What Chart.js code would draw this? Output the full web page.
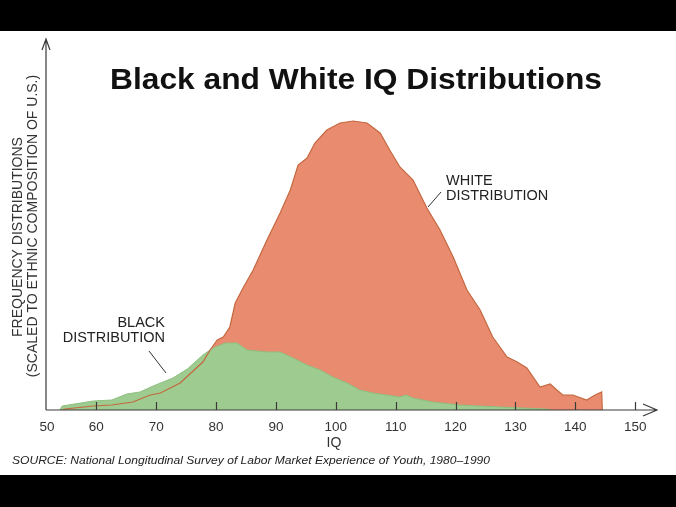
<!DOCTYPE html>
<html>
<head>
<meta charset="utf-8">
<script src="https://cdn.jsdelivr.net/npm/chart.js@4"></script>
<style>
  html, body { margin: 0; padding: 0; background: #fff; }
  canvas { display: block; }
</style>
</head>
<body>
<canvas id="iq-chart" width="676" height="507"></canvas>
<script>
// values (frequency in arbitrary units)
const whiteIQ = [54.3, 54.8, 59.5, 62.6, 66.1, 69.0, 70.7, 74.0, 77.8, 79.0,
                 80.2, 81.2, 82.3, 83.2, 84.5, 86.2, 88.5, 90.7, 92.4, 93.7,
                 95.2, 96.5, 98.5, 100.7, 102.9, 105.2, 107.4, 109.0, 110.7, 112.9,
                 115.2, 117.4, 119.6, 121.9, 124.1, 126.2, 128.6, 130.3, 131.9, 134.1,
                 135.8, 136.9, 137.9, 139.6, 141.9, 143.3, 144.4, 144.5];
const whiteFreq = [0, 0.1, 0.4, 0.5, 0.8, 1.5, 1.7, 2.7, 4.8, 6.0,
                   7.0, 7.3, 8.3, 10.7, 12.2, 14.0, 17.0, 19.7, 22.0, 24.5,
                   25.2, 26.7, 28.0, 28.7, 28.9, 28.7, 27.7, 26.0, 24.3, 23.0,
                   20.2, 18.0, 15.3, 12.0, 10.0, 7.3, 5.3, 4.8, 4.2, 2.3,
                   2.6, 2.0, 1.5, 1.5, 1.0, 1.5, 1.8, 0];
const blackIQ = [53.9, 54.3, 59.5, 62.6, 65.1, 67.3, 69.5, 72.8, 75.2, 77.8,
                 79.0, 79.5, 80.7, 81.5, 83.5, 85.2, 88.5, 90.7, 92.9, 95.2,
                 97.4, 99.5, 101.9, 104.0, 106.2, 108.5, 110.7, 111.7, 112.9, 116.2,
                 120.7, 127.4, 134.9, 136.0];
const blackFreq = [0, 0.4, 0.9, 1.0, 1.6, 1.8, 2.4, 3.2, 4.1, 5.5,
                   6.0, 6.2, 6.5, 6.7, 6.7, 6.0, 5.8, 5.8, 5.2, 4.5,
                   4.0, 3.3, 2.7, 2.0, 1.7, 1.5, 1.3, 1.5, 1.2, 0.8,
                   0.5, 0.3, 0.1, 0];
const xTicks = [60, 70, 80, 90, 100, 110, 120, 130, 140, 150];
const xMinLabel = '50';

const SALMON = '#e98b6f';
const GREEN = '#9ecb90';

function pts(xs, ys) {
  return xs.map((x, i) => ({ x: x, y: ys[i] }));
}

// draw text stretched to a given width
function stretchText(ctx, txt, x, y, width, align) {
  const w = ctx.measureText(txt).width;
  const sx = width ? width / w : 1;
  ctx.save();
  ctx.translate(x, y);
  ctx.scale(sx, 1);
  ctx.textAlign = align || 'left';
  ctx.fillText(txt, 0, 0);
  ctx.restore();
}

const decor = {
  id: 'decor',
  beforeDraw(chart) {
    const c = chart.ctx;
    c.save();
    c.fillStyle = '#fff';
    c.fillRect(0, 0, chart.width, chart.height);
    c.fillStyle = '#000';
    c.fillRect(0, 0, chart.width, 31);
    c.fillRect(0, 475, chart.width, chart.height - 475);
    c.restore();
  },
  afterDraw(chart) {
    const c = chart.ctx;
    const xs = chart.scales.x, ys = chart.scales.y;
    const x0 = xs.left, y0 = ys.bottom;
    c.save();

    // axes with open arrow heads
    c.strokeStyle = '#3a3a3a';
    c.lineWidth = 1.2;
    c.beginPath();
    c.moveTo(x0, y0); c.lineTo(x0, 39);
    c.moveTo(x0 - 4, 50); c.lineTo(x0, 39); c.lineTo(x0 + 4, 50);
    c.moveTo(x0, y0); c.lineTo(657, y0);
    c.moveTo(643, y0 - 6); c.lineTo(657, y0); c.lineTo(643, y0 + 6);
    c.stroke();

    // ticks pointing up into the plot
    c.beginPath();
    xTicks.forEach(v => {
      const px = Math.round(xs.getPixelForValue(v)) + 0.5;
      c.moveTo(px, y0); c.lineTo(px, y0 - 8);
    });
    c.stroke();

    // tick labels
    c.fillStyle = '#333';
    c.font = '13.5px "Liberation Sans", Arial, sans-serif';
    c.textBaseline = 'middle';
    c.textAlign = 'center';
    c.fillText(xMinLabel, 47, 427);
    xTicks.forEach(v => c.fillText(String(v), xs.getPixelForValue(v), 427));
    c.font = '14px "Liberation Sans", Arial, sans-serif';
    c.fillText('IQ', 334, 443);

    // y axis title
    c.save();
    c.translate(18, 237);
    c.rotate(-Math.PI / 2);
    c.fillText('FREQUENCY DISTRIBUTIONS', 0, 0);
    c.restore();
    c.save();
    c.translate(33, 226);
    c.rotate(-Math.PI / 2);
    c.fillText('(SCALED TO ETHNIC COMPOSITION OF U.S.)', 0, 0);
    c.restore();

    // title
    c.fillStyle = '#111';
    c.font = 'bold 29px "Liberation Sans", Arial, sans-serif';
    stretchText(c, 'Black and White IQ Distributions', 356, 81, 492, 'center');

    // series annotations
    c.fillStyle = '#222';
    c.font = '14.5px "Liberation Sans", Arial, sans-serif';
    c.textAlign = 'left';
    c.fillText('WHITE', 446, 181);
    c.fillText('DISTRIBUTION', 446, 196);
    c.textAlign = 'right';
    c.fillText('BLACK', 165, 323);
    c.fillText('DISTRIBUTION', 165, 338);
    c.strokeStyle = '#333';
    c.lineWidth = 1;
    c.beginPath();
    c.moveTo(428, 207); c.lineTo(441, 192);
    c.moveTo(149, 351); c.lineTo(166, 373);
    c.stroke();

    // source line
    c.fillStyle = '#222';
    c.font = 'italic 11.5px "Liberation Sans", Arial, sans-serif';
    c.textAlign = 'left';
    stretchText(c, 'SOURCE: National Longitudinal Survey of Labor Market Experience of Youth, 1980\u20131990', 12, 461, 478, 'left');

    c.restore();
  }
};

new Chart(document.getElementById('iq-chart').getContext('2d'), {
  type: 'line',
  data: {
    datasets: [
      {
        label: 'White fill',
        data: pts(whiteIQ, whiteFreq),
        backgroundColor: SALMON,
        borderColor: SALMON,
        borderWidth: 0,
        fill: 'origin',
        order: 3
      },
      {
        label: 'Black distribution',
        data: pts(blackIQ, blackFreq),
        backgroundColor: GREEN,
        borderColor: '#8fbf80',
        borderWidth: 1,
        fill: 'origin',
        order: 2
      },
      {
        label: 'White distribution',
        data: pts(whiteIQ, whiteFreq),
        borderColor: '#c4683f',
        borderWidth: 1.2,
        fill: false,
        order: 1
      }
    ]
  },
  options: {
    responsive: false,
    animation: false,
    devicePixelRatio: 1,
    layout: { padding: { left: 46, right: 21, top: 42, bottom: 97 } },
    elements: { point: { radius: 0 }, line: { tension: 0 } },
    plugins: { legend: { display: false }, tooltip: { enabled: false } },
    scales: {
      x: { type: 'linear', min: 51.6, max: 153.3, display: false },
      y: { min: 0, max: 36.8, display: false }
    }
  },
  plugins: [decor]
});
</script>
</body>
</html>
